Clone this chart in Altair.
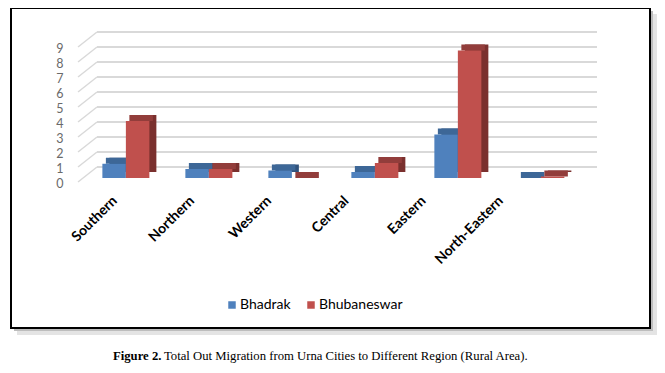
import altair as alt
import pandas as pd

categories = ["Southern", "Northern", "Western", "Central", "Eastern", "North-Eastern"]
series_names = ["Bhadrak", "Bhubaneswar"]
bhadrak = [0.95, 0.6, 0.5, 0.4, 2.9, 0.0]
bhubaneswar = [3.8, 0.6, 0.0, 1.0, 8.5, 0.1]
y_ticks = [0, 1, 2, 3, 4, 5, 6, 7, 8, 9]

front_colors = ["#4F81BD", "#C0504D"]
top_colors = {"Bhadrak": "#3D6797", "Bhubaneswar": "#923D3B"}
side_colors = {"Bhadrak": "#30527C", "Bhubaneswar": "#7A302E"}

rows = []
for i, c in enumerate(categories):
    rows.append({"region": c, "series": "Bhadrak", "value": bhadrak[i]})
    rows.append({"region": c, "series": "Bhubaneswar", "value": bhubaneswar[i]})
df = pd.DataFrame(rows)
df["top"] = df["series"].map(top_colors)
df["side"] = df["series"].map(side_colors)

grid_df = pd.DataFrame({"t": y_ticks})
cat_df = pd.DataFrame({"region": categories})
one = pd.DataFrame({"a": [0]})

BAND = 47
yscale = alt.Scale(domain=[0, 9], nice=False, zero=True)
xscale = alt.Scale(domain=categories, paddingInner=0.434, paddingOuter=0.3075, align=0.36)
yaxis = alt.Axis(
    values=y_ticks, grid=False, domain=False, ticks=False,
    labelPadding=21, labelOffset=5, labelFont="Lato",
    labelFontSize=12.5, labelColor="#6a6a6a", title=None, zindex=2,
)


def bars(shift):
    return alt.Chart(df).encode(
        x=alt.X("region:N", sort=categories, scale=xscale, axis=None),
        xOffset=alt.XOffset(
            "series:N", sort=series_names,
            scale=alt.Scale(domain=series_names, range=[shift, BAND + shift],
                            paddingInner=0, paddingOuter=0),
        ),
    )


side = bars(7).mark_bar(yOffset=-6, y2Offset=-3).encode(
    y=alt.Y("value:Q", scale=yscale, axis=yaxis),
    fill=alt.Fill("side:N", scale=None),
)
top = bars(3.5).mark_bar(yOffset=-6).encode(
    y=alt.Y("value:Q", scale=yscale, axis=yaxis),
    y2=alt.Y2("value"),
    fill=alt.Fill("top:N", scale=None),
)
front = bars(0).mark_bar().encode(
    y=alt.Y("value:Q", scale=yscale, axis=yaxis),
    color=alt.Color(
        "series:N",
        scale=alt.Scale(domain=series_names, range=front_colors),
        legend=alt.Legend(
            title=None, orient="none", legendX=141, legendY=255,
            direction="horizontal", symbolType="square", symbolSize=56,
            labelFont="Lato", labelFontSize=14, labelColor="black",
            labelOffset=1, columnPadding=13, symbolStrokeWidth=0,
        ),
    ),
)

grid = alt.Chart(grid_df).mark_rule(yOffset=-11, color="#d9d9d9", strokeWidth=2).encode(
    y=alt.Y("t:Q", scale=yscale, axis=yaxis),
    x=alt.value(13),
    x2=alt.value(513),
)
diag = alt.Chart(grid_df).mark_rule(yOffset=4, y2Offset=-11, color="#d9d9d9", strokeWidth=1.5).encode(
    y=alt.Y("t:Q", scale=yscale, axis=yaxis),
    y2=alt.Y2("t"),
    x=alt.value(-6),
    x2=alt.value(13),
)

labels = alt.Chart(cat_df).mark_text(
    angle=315, align="right", baseline="top", font="Lato",
    fontWeight="bold", fontSize=14, color="black",
).encode(
    x=alt.X("region:N", sort=categories,
            scale=alt.Scale(type="point", domain=categories, range=[26, 412], padding=0),
            axis=None),
    y=alt.value(151),
    text="region:N",
)

# frame with drop shadow (strips only, so nothing is covered)
shadow_r_out = alt.Chart(one).mark_rect(fill="#e4e4e4").encode(
    x=alt.value(566), x2=alt.value(573), y=alt.value(-29), y2=alt.value(292))
shadow_b_out = alt.Chart(one).mark_rect(fill="#e4e4e4").encode(
    x=alt.value(-67), x2=alt.value(573), y=alt.value(285), y2=alt.value(292))
shadow_r_in = alt.Chart(one).mark_rect(fill="#bdbdbd").encode(
    x=alt.value(566), x2=alt.value(569), y=alt.value(-32), y2=alt.value(288))
shadow_b_in = alt.Chart(one).mark_rect(fill="#bdbdbd").encode(
    x=alt.value(-70), x2=alt.value(569), y=alt.value(285), y2=alt.value(288))
frame = alt.Chart(one).mark_rect(fillOpacity=0, stroke="black", strokeWidth=2).encode(
    x=alt.value(-73), x2=alt.value(566), y=alt.value(-35), y2=alt.value(285))

cap_bold = alt.Chart(one).mark_text(
    align="left", baseline="middle", font="Liberation Serif",
    fontWeight="bold", fontSize=12.7, color="black",
).encode(x=alt.value(29), y=alt.value(313), text=alt.value("Figure 2."))
cap_reg = alt.Chart(one).mark_text(
    align="left", baseline="middle", font="Liberation Serif",
    fontSize=12.7, color="black",
).encode(x=alt.value(80), y=alt.value(313),
         text=alt.value("Total Out Migration from Urna Cities to Different Region (Rural Area)."))

chart = alt.layer(
    shadow_r_out, shadow_b_out, shadow_r_in, shadow_b_in, frame,
    grid, diag, side, top, front, labels, cap_bold, cap_reg
).resolve_scale(x="independent", xOffset="independent").properties(
    width=513, height=135,
    padding={"left": 76, "top": 35, "right": 60, "bottom": 187},
    autosize=alt.AutoSizeParams(type="none"),
    background="white",
).configure_view(strokeWidth=0)

chart.save("out.html", embed_options={"renderer": "svg", "actions": False})
